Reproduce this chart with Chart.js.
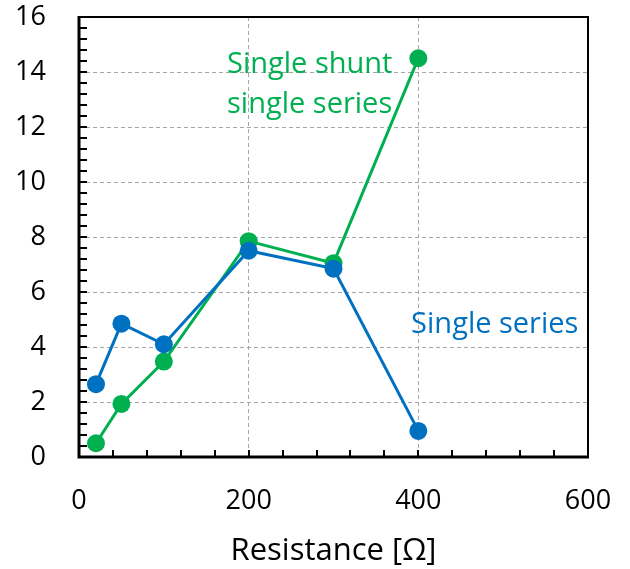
<!DOCTYPE html>
<html><head><meta charset="utf-8">
<script src="https://cdn.jsdelivr.net/npm/chart.js@4"></script>
<style>html,body{margin:0;padding:0;background:#fff}#wrap{width:630px;height:569px}</style>
</head>
<body><div id="wrap"><canvas id="c" width="630" height="569"></canvas></div>
<script>
const resistance = [20, 50, 100, 200, 300, 400];
const singleSeries = [2.65, 4.85, 4.1, 7.5, 6.85, 0.95];
const singleShuntSingleSeries = [0.5, 1.93, 3.47, 7.85, 7.05, 14.5];
const xRange = [0, 600];
const yRange = [0, 16];
const xTitle = 'Resistance [Ω]';
const labelGreen = ['Single shunt', 'single series'];
const labelBlue = 'Single series';

const BLUE = '#0070C0', GREEN = '#00B050';
const FONT = '"Open Sans"';

const framePlugin = {
  id: 'frame',
  afterDraw(chart) {
    const {ctx, chartArea: a, scales: {x, y}} = chart;
    ctx.save();
    ctx.strokeStyle = '#000';
    ctx.lineWidth = 2;
    ctx.beginPath();
    for (let v = xRange[0]; v <= xRange[1] + 1e-6; v += 40) {
      const px = Math.round(x.getPixelForValue(v));
      ctx.moveTo(px, a.bottom); ctx.lineTo(px, a.bottom - 7);
    }
    for (let i = 0; i <= 40; i++) {
      const py = Math.round(y.getPixelForValue(i * 0.4));
      ctx.moveTo(a.left, py); ctx.lineTo(a.left + 8, py);
    }
    ctx.stroke();
    ctx.lineWidth = 2;
    ctx.beginPath();
    ctx.moveTo(a.left, a.top); ctx.lineTo(a.right, a.top); ctx.lineTo(a.right, a.bottom);
    ctx.stroke();
    ctx.lineWidth = 3;
    ctx.beginPath();
    ctx.moveTo(a.left, a.top - 1); ctx.lineTo(a.left, a.bottom); ctx.lineTo(a.right + 1, a.bottom);
    ctx.stroke();
    ctx.restore();
  }
};

const labelPlugin = {
  id: 'labels',
  afterDatasetsDraw(chart) {
    const {ctx, scales: {x, y}} = chart;
    ctx.save();
    ctx.font = '29px ' + FONT;
    ctx.textBaseline = 'alphabetic';
    ctx.textAlign = 'left';
    ctx.fillStyle = GREEN;
    ctx.fillText(labelGreen[0], x.getPixelForValue(174.5), y.getPixelForValue(13.96));
    ctx.fillText(labelGreen[1], x.getPixelForValue(174.5), y.getPixelForValue(12.5));
    ctx.fillStyle = BLUE;
    ctx.fillText(labelBlue, x.getPixelForValue(391.5), y.getPixelForValue(4.5));
    ctx.restore();
  }
};

const noPad = s => { s.paddingTop = 0; s.paddingBottom = 0; s.paddingLeft = 0; s.paddingRight = 0; };
const toPts = ys => resistance.map((r, i) => ({x: r, y: ys[i]}));

new Chart(document.getElementById('c'), {
  type: 'scatter',
  data: {
    datasets: [
      {label: 'Single series', data: toPts(singleSeries), showLine: true,
       borderColor: BLUE, backgroundColor: BLUE, borderWidth: 3,
       pointRadius: 9, pointHoverRadius: 9, pointBorderWidth: 0},
      {label: 'Single shunt single series', data: toPts(singleShuntSingleSeries), showLine: true,
       borderColor: GREEN, backgroundColor: GREEN, borderWidth: 3,
       pointRadius: 9, pointHoverRadius: 9, pointBorderWidth: 0}
    ]
  },
  options: {
    responsive: false,
    animation: false,
    events: [],
    layout: {padding: {top: 17, right: 42, left: 0, bottom: 0}},
    plugins: {legend: {display: false}, tooltip: {enabled: false}},
    scales: {
      x: {
        type: 'linear', min: xRange[0], max: xRange[1],
        ticks: {stepSize: 200, color: '#000', font: {family: FONT, size: 27}, padding: 28, maxRotation: 0},
        grid: {color: '#a6a6a6', lineWidth: 1, drawTicks: false},
        border: {display: false, dash: [4, 3]},
        title: {display: true, text: xTitle, color: '#000', font: {family: FONT, size: 31, lineHeight: 1}, padding: {top: 0, bottom: 2}},
        afterFit(s) { s.height = 112; noPad(s); }
      },
      y: {
        type: 'linear', min: yRange[0], max: yRange[1],
        ticks: {stepSize: 2, color: '#000', font: {family: FONT, size: 27}, padding: 33},
        grid: {color: '#a6a6a6', lineWidth: 1, drawTicks: false},
        border: {display: false, dash: [4, 3]},
        afterFit(s) { s.width = 79; noPad(s); }
      }
    }
  },
  plugins: [framePlugin, labelPlugin]
});
</script>
</body></html>
